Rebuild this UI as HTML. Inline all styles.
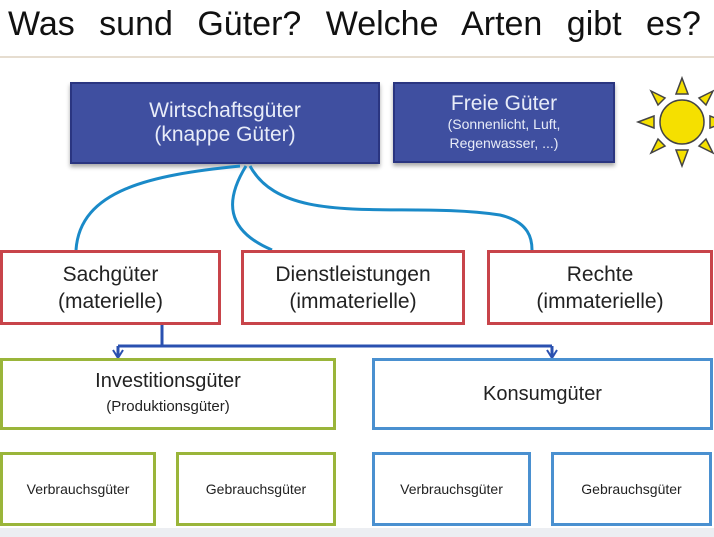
<!DOCTYPE html>
<html><head><meta charset="utf-8"><style>
body{margin:0;width:714px;height:537px;background:#fff;position:relative;overflow:hidden;font-family:"Liberation Sans",sans-serif}
.b{position:absolute;box-sizing:border-box;display:flex;flex-direction:column;align-items:center;justify-content:center;text-align:center;color:#222}
.r{border:3px solid #c8444a}
.g{border:3px solid #9ab53a}
.u{border:3px solid #4a90d0}
.d{background:#3f4fa0;border:2px solid #2a3580;color:#e8ecf8;box-shadow:0 3px 4px #aaa}
</style></head><body>
<div style="position:absolute;left:8px;top:5px;font-family:'Liberation Sans',sans-serif;font-size:34px;color:#111;letter-spacing:0;white-space:nowrap;word-spacing:15px">Was sund Güter? Welche Arten gibt es?</div>
<div style="position:absolute;left:0;top:56px;width:714px;height:2px;background:#e6ddd0"></div>
<div class="b d" style="left:70px;top:82px;width:310px;height:82px;font-size:21px;line-height:24px">Wirtschaftsgüter<br>(knappe Güter)</div>
<div class="b d" style="left:393px;top:82px;width:222px;height:81px;font-size:21px;line-height:22px">Freie Güter<span style="font-size:14px;line-height:19px">(Sonnenlicht, Luft,<br>Regenwasser, ...)</span></div>
<svg style="position:absolute;left:0;top:0" width="714" height="537">
<g fill="#f5e000" stroke="#444" stroke-width="1.5">
<polygon points="682,78 688,94 676,94"/><polygon points="682,166 688,150 676,150"/>
<polygon points="638,122 654,116 654,128"/><polygon points="726,122 710,116 710,128"/>
<polygon points="651,91 665,98 658,105"/><polygon points="713,91 699,98 706,105"/>
<polygon points="651,153 665,146 658,139"/><polygon points="713,153 699,146 706,139"/>
<circle cx="682" cy="122" r="22"/></g>
<g fill="none" stroke="#1a8ac8" stroke-width="3">
<path d="M240,166 C150,175 80,190 76,250"/>
<path d="M246,166 C225,200 225,230 272,250"/>
<path d="M250,166 C285,230 400,200 500,215 C530,222 532,240 532,250"/>
</g>
<g stroke="#2a50b0" stroke-width="3" fill="none">
<path d="M162,325 V346 M118,346 H552 M118,346 V356 M552,346 V356"/>
</g>
<path d="M113,350 L118,358 L123,350" stroke="#2a50b0" stroke-width="2" fill="none"/>
<path d="M547,350 L552,358 L557,350" stroke="#2a50b0" stroke-width="2" fill="none"/>
</svg>
<div class="b r" style="left:0;top:250px;width:221px;height:75px;font-size:21px;line-height:27px">Sachgüter<br>(materielle)</div>
<div class="b r" style="left:241px;top:250px;width:224px;height:75px;font-size:21px;line-height:27px">Dienstleistungen<br>(immaterielle)</div>
<div class="b r" style="left:487px;top:250px;width:226px;height:75px;font-size:21px;line-height:27px">Rechte<br>(immaterielle)</div>
<div class="b g" style="left:0;top:358px;width:336px;height:72px;font-size:20px;line-height:26px">Investitionsgüter<span style="font-size:15px">(Produktionsgüter)</span></div>
<div class="b u" style="left:372px;top:358px;width:341px;height:72px;font-size:20px">Konsumgüter</div>
<div class="b g" style="left:0;top:452px;width:156px;height:74px;font-size:14px">Verbrauchsgüter</div>
<div class="b g" style="left:176px;top:452px;width:160px;height:74px;font-size:14px">Gebrauchsgüter</div>
<div class="b u" style="left:372px;top:452px;width:159px;height:74px;font-size:14px">Verbrauchsgüter</div>
<div class="b u" style="left:551px;top:452px;width:161px;height:74px;font-size:14px">Gebrauchsgüter</div>
<div style="position:absolute;left:0;top:528px;width:714px;height:9px;background:#eceef2"></div>
</body></html>
